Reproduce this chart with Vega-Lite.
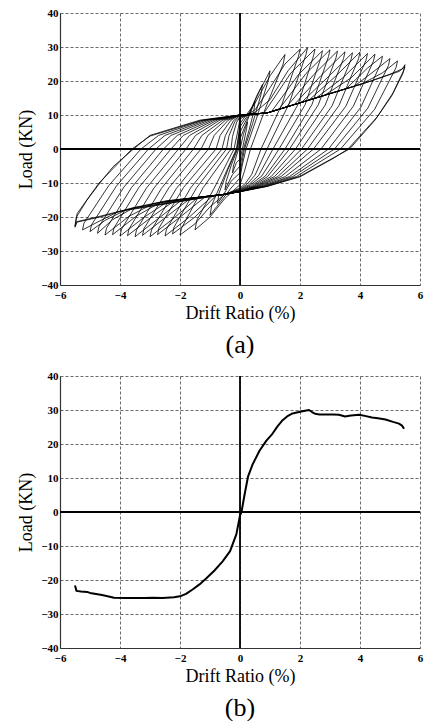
{
  "$schema": "https://vega.github.io/schema/vega-lite/v6.json",
  "padding": {"left": 17, "top": 7, "right": 2, "bottom": 0},
  "background": "white",
  "config": {
    "view": {"stroke": null},
    "font": "Liberation Serif, Times New Roman, Times, serif",
    "axis": {
      "labelFont": "Liberation Serif, Times New Roman, Times, serif", "labelFontWeight": "bold", "labelFontSize": 11, "labelColor": "#000",
      "titleFont": "Liberation Serif, Times New Roman, Times, serif", "titleFontSize": 18, "titleFontWeight": "normal", "titleColor": "#000",
      "domainColor": "#333", "domainWidth": 1.2, "ticks": false, "tickSize": 0,
      "gridColor": "#222", "gridDash": [3, 2], "gridWidth": 0.8, "gridOpacity": 0.85,
      "labelPadding": 3, "labelFlush": false, "labelOverlap": false
    },
    "axisX": {"labelPadding": 4, "titlePadding": 4},
    "axisY": {"labelPadding": 2, "titlePadding": 5},
    "title": {"font": "Liberation Serif, Times New Roman, Times, serif", "fontSize": 26, "fontWeight": "normal", "color": "#000", "orient": "bottom", "anchor": "middle", "offset": 10}
  },
  "datasets": {
    "z": [{"v": 0}],
    "b": [
      {"x":-5.5,"y":-21.6},{"x":-5.45,"y":-23.2},{"x":-5.3,"y":-23.4},{"x":-5.1,"y":-23.5},{"x":-5.0,"y":-23.8},{"x":-4.6,"y":-24.4},{"x":-4.34,"y":-24.9},{"x":-4.2,"y":-25.2},{"x":-3.8,"y":-25.3},{"x":-3.57,"y":-25.3},{"x":-3.2,"y":-25.3},{"x":-2.9,"y":-25.2},{"x":-2.6,"y":-25.3},{"x":-2.45,"y":-25.2},{"x":-2.2,"y":-25.1},{"x":-2.0,"y":-24.8},{"x":-1.8,"y":-24.1},{"x":-1.58,"y":-22.8},{"x":-1.35,"y":-21.3},{"x":-1.12,"y":-19.5},{"x":-0.85,"y":-17.2},{"x":-0.58,"y":-14.5},{"x":-0.33,"y":-11.5},{"x":-0.12,"y":-6.5},{"x":0,"y":-1},{"x":0.05,"y":0},{"x":0.15,"y":5},{"x":0.27,"y":10.5},{"x":0.42,"y":14},{"x":0.65,"y":18},{"x":0.88,"y":21},{"x":1.08,"y":23},{"x":1.25,"y":25.2},{"x":1.42,"y":27},{"x":1.6,"y":28.3},{"x":1.75,"y":29},{"x":2.0,"y":29.5},{"x":2.3,"y":30},{"x":2.4,"y":29.4},{"x":2.5,"y":28.9},{"x":2.65,"y":28.7},{"x":3.1,"y":28.7},{"x":3.3,"y":28.6},{"x":3.5,"y":28.1},{"x":3.7,"y":28.4},{"x":3.98,"y":28.6},{"x":4.2,"y":28.2},{"x":4.4,"y":27.8},{"x":4.6,"y":27.6},{"x":4.85,"y":27.2},{"x":5.1,"y":26.5},{"x":5.3,"y":26},{"x":5.4,"y":25.4},{"x":5.47,"y":24.5}
    ],
    "a": [
      {"x":0,"y":0},
      {"x":0.12,"y":4.5},{"x":0.25,"y":8},{"x":0.22,"y":6},{"x":0.08,"y":0},{"x":0,"y":-3},{"x":-0.12,"y":-4},{"x":-0.25,"y":-7},{"x":-0.22,"y":-5},{"x":-0.05,"y":0},{"x":0,"y":3},
      {"x":0.25,"y":8.5},{"x":0.5,"y":14},{"x":0.46,"y":11},{"x":0.3,"y":5.5},{"x":0.12,"y":0},{"x":0,"y":-5},{"x":-0.25,"y":-7.5},{"x":-0.5,"y":-12},{"x":-0.46,"y":-9.5},{"x":-0.28,"y":-4.5},{"x":-0.08,"y":0},{"x":0,"y":5},
      {"x":0.3,"y":10},{"x":0.55,"y":15.5},{"x":0.75,"y":19},{"x":0.7,"y":16},{"x":0.42,"y":7.5},{"x":0.15,"y":0},{"x":0,"y":-7},{"x":-0.3,"y":-9.5},{"x":-0.55,"y":-13.5},{"x":-0.75,"y":-16},{"x":-0.7,"y":-13},{"x":-0.4,"y":-6},{"x":-0.1,"y":0},{"x":0,"y":6.5},
      {"x":0.3,"y":10.5},{"x":0.65,"y":17},{"x":1.0,"y":23},{"x":0.94,"y":20},{"x":0.55,"y":9},{"x":0.2,"y":0},{"x":0.07,"y":-5},{"x":0,"y":-8.5},{"x":-0.3,"y":-11.5},{"x":-0.65,"y":-15.5},{"x":-1.0,"y":-19.5},{"x":-0.94,"y":-16.5},{"x":-0.5,"y":-7.5},{"x":-0.12,"y":0},{"x":-0.04,"y":4.5},{"x":0,"y":7.5},
      {"x":0.5,"y":13.5},{"x":1.0,"y":21.5},{"x":1.5,"y":27.8},{"x":1.44,"y":25},{"x":0.85,"y":12},{"x":0.35,"y":0},{"x":0.15,"y":-6.5},{"x":0,"y":-10.5},{"x":-0.5,"y":-14.5},{"x":-1.0,"y":-20},{"x":-1.5,"y":-23.8},{"x":-1.44,"y":-21},{"x":-0.8,"y":-10.5},{"x":-0.2,"y":0},{"x":-0.08,"y":5},{"x":0,"y":8.8},
      {"x":0.5,"y":11.5},{"x":1.0,"y":18},{"x":1.5,"y":25},{"x":2.0,"y":29.3},{"x":1.95,"y":27.3},{"x":1.4,"y":13.2},{"x":0.7,"y":0},{"x":0.39,"y":-7.5},{"x":0.18,"y":-10.1},{"x":0,"y":-11.5},{"x":-0.5,"y":-13.3},{"x":-1.0,"y":-17},{"x":-1.5,"y":-22},{"x":-2.0,"y":-25.3},{"x":-1.95,"y":-23.3},{"x":-1.23,"y":-11.4},{"x":-0.3,"y":0},{"x":-0.25,"y":3.7},{"x":-0.11,"y":7.9},{"x":0,"y":9.3},
      {"x":0.5,"y":10.8},{"x":1.0,"y":14.5},{"x":1.6,"y":23},{"x":2.25,"y":29.8},{"x":2.2,"y":27.8},{"x":1.64,"y":13.4},{"x":0.9,"y":0},{"x":0.5,"y":-7.7},{"x":0.23,"y":-10.4},{"x":0,"y":-11.8},{"x":-0.5,"y":-13.3},{"x":-0.8,"y":-13.7},{"x":-1.5,"y":-20},{"x":-2.25,"y":-25.0},{"x":-2.2,"y":-23},{"x":-1.44,"y":-11.3},{"x":-0.45,"y":0},{"x":-0.37,"y":3.8},{"x":-0.17,"y":8.1},{"x":0,"y":9.5},
      {"x":0.8,"y":10.6},{"x":1.7,"y":22.4},{"x":2.5,"y":29.4},{"x":2.45,"y":27.4},{"x":1.94,"y":13.2},{"x":1.1,"y":0},{"x":0.62,"y":-7.8},{"x":0.28,"y":-10.6},{"x":0,"y":-12},{"x":-0.5,"y":-13.3},{"x":-0.9,"y":-13.7},{"x":-1.7,"y":-20.1},{"x":-2.5,"y":-25.6},{"x":-2.45,"y":-23.6},{"x":-1.65,"y":-11.5},{"x":-0.6,"y":0},{"x":-0.49,"y":3.9},{"x":-0.22,"y":8.3},{"x":0,"y":9.8},
      {"x":0.9,"y":10.6},{"x":1.05,"y":11.0},{"x":1.95,"y":21.9},{"x":2.75,"y":28.9},{"x":2.7,"y":26.9},{"x":2.17,"y":13},{"x":1.3,"y":0},{"x":0.73,"y":-7.9},{"x":0.33,"y":-10.7},{"x":0,"y":-12.2},{"x":-0.5,"y":-13.3},{"x":-1.15,"y":-14.0},{"x":-1.95,"y":-19.7},{"x":-2.75,"y":-25.2},{"x":-2.7,"y":-23.2},{"x":-1.88,"y":-11.3},{"x":-0.8,"y":0},{"x":-0.66,"y":4},{"x":-0.3,"y":8.5},{"x":0,"y":10},
      {"x":0.9,"y":10.6},{"x":1.3,"y":11.7},{"x":2.2,"y":22.2},{"x":3.0,"y":29.2},{"x":2.95,"y":27.2},{"x":2.4,"y":13.1},{"x":1.5,"y":0},{"x":0.84,"y":-8},{"x":0.38,"y":-10.8},{"x":0,"y":-12.3},{"x":-0.5,"y":-13.3},{"x":-1.4,"y":-14.2},{"x":-2.2,"y":-20.3},{"x":-3.0,"y":-25.8},{"x":-2.95,"y":-23.8},{"x":-2.12,"y":-11.6},{"x":-1.05,"y":0},{"x":-0.86,"y":4},{"x":-0.39,"y":8.5},{"x":0,"y":10},
      {"x":0.9,"y":10.6},{"x":1.55,"y":12.4},{"x":2.45,"y":21.8},{"x":3.25,"y":28.8},{"x":3.2,"y":26.8},{"x":2.61,"y":13},{"x":1.65,"y":0},{"x":0.92,"y":-8.1},{"x":0.41,"y":-11},{"x":0,"y":-12.5},{"x":-0.5,"y":-13.3},{"x":-1.65,"y":-14.5},{"x":-2.45,"y":-19.9},{"x":-3.25,"y":-25.4},{"x":-3.2,"y":-23.4},{"x":-2.37,"y":-11.4},{"x":-1.3,"y":0},{"x":-1.07,"y":4},{"x":-0.48,"y":8.5},{"x":0,"y":10},
      {"x":0.9,"y":10.6},{"x":1.8,"y":13.0},{"x":2.7,"y":21.6},{"x":3.5,"y":28.6},{"x":3.45,"y":26.6},{"x":2.84,"y":12.9},{"x":1.85,"y":0},{"x":1.04,"y":-8.1},{"x":0.46,"y":-11},{"x":0,"y":-12.5},{"x":-0.5,"y":-13.3},{"x":-1.9,"y":-14.7},{"x":-2.7,"y":-20.3},{"x":-3.5,"y":-25.8},{"x":-3.45,"y":-23.8},{"x":-2.62,"y":-11.6},{"x":-1.55,"y":0},{"x":-1.27,"y":4},{"x":-0.57,"y":8.5},{"x":0,"y":10},
      {"x":0.9,"y":10.6},{"x":2.05,"y":13.7},{"x":2.95,"y":21.3},{"x":3.75,"y":28.3},{"x":3.7,"y":26.3},{"x":3.07,"y":12.7},{"x":2.05,"y":0},{"x":1.15,"y":-8.1},{"x":0.51,"y":-11},{"x":0,"y":-12.5},{"x":-0.5,"y":-13.3},{"x":-2.15,"y":-15.0},{"x":-2.95,"y":-20.0},{"x":-3.75,"y":-25.5},{"x":-3.7,"y":-23.5},{"x":-2.87,"y":-11.5},{"x":-1.8,"y":0},{"x":-1.48,"y":4},{"x":-0.67,"y":8.5},{"x":0,"y":10},
      {"x":0.9,"y":10.6},{"x":2.3,"y":14.4},{"x":3.2,"y":21.5},{"x":4.0,"y":28.5},{"x":3.95,"y":26.5},{"x":3.3,"y":12.8},{"x":2.25,"y":0},{"x":1.26,"y":-8.1},{"x":0.56,"y":-11},{"x":0,"y":-12.5},{"x":-0.5,"y":-13.3},{"x":-2.4,"y":-15.4},{"x":-3.2,"y":-20.1},{"x":-4.0,"y":-25.6},{"x":-3.95,"y":-23.6},{"x":-3.12,"y":-11.5},{"x":-2.05,"y":0},{"x":-1.68,"y":4},{"x":-0.76,"y":8.5},{"x":0,"y":10},
      {"x":0.9,"y":10.6},{"x":2.55,"y":15.1},{"x":3.45,"y":21.1},{"x":4.25,"y":28.1},{"x":4.2,"y":26.1},{"x":3.53,"y":12.6},{"x":2.45,"y":0},{"x":1.37,"y":-8.1},{"x":0.61,"y":-11},{"x":0,"y":-12.5},{"x":-0.5,"y":-13.3},{"x":-2.65,"y":-15.7},{"x":-3.45,"y":-19.7},{"x":-4.25,"y":-25.2},{"x":-4.2,"y":-23.2},{"x":-3.37,"y":-11.3},{"x":-2.3,"y":0},{"x":-1.89,"y":4},{"x":-0.85,"y":8.5},{"x":0,"y":10},
      {"x":0.9,"y":10.6},{"x":2.8,"y":15.7},{"x":3.7,"y":20.9},{"x":4.5,"y":27.9},{"x":4.45,"y":25.9},{"x":3.78,"y":12.6},{"x":2.7,"y":0},{"x":1.51,"y":-8.1},{"x":0.68,"y":-11},{"x":0,"y":-12.5},{"x":-0.5,"y":-13.3},{"x":-2.9,"y":-16.1},{"x":-3.7,"y":-19.8},{"x":-4.5,"y":-25.3},{"x":-4.45,"y":-23.3},{"x":-3.62,"y":-11.4},{"x":-2.55,"y":0},{"x":-2.09,"y":4},{"x":-0.94,"y":8.5},{"x":0,"y":10},
      {"x":0.9,"y":10.6},{"x":3.55,"y":17.8},{"x":4.25,"y":23.8},{"x":4.75,"y":27.3},{"x":4.7,"y":25.3},{"x":4.03,"y":12.3},{"x":2.95,"y":0},{"x":1.65,"y":-8.1},{"x":0.74,"y":-11},{"x":0,"y":-12.5},{"x":-0.5,"y":-13.3},{"x":-3.55,"y":-17.3},{"x":-4.25,"y":-20.8},{"x":-4.75,"y":-24.8},{"x":-4.7,"y":-22.8},{"x":-3.87,"y":-11.2},{"x":-2.8,"y":0},{"x":-2.3,"y":4},{"x":-1.04,"y":8.5},{"x":0,"y":10},
      {"x":0.9,"y":10.6},{"x":3.8,"y":18.4},{"x":4.5,"y":23.1},{"x":5.0,"y":26.6},{"x":4.95,"y":24.6},{"x":4.26,"y":12},{"x":3.15,"y":0},{"x":1.76,"y":-8.1},{"x":0.79,"y":-11},{"x":0,"y":-12.5},{"x":-0.5,"y":-13.3},{"x":-3.8,"y":-17.9},{"x":-4.5,"y":-21.0},{"x":-5.0,"y":-24.3},{"x":-4.95,"y":-22.3},{"x":-4.12,"y":-10.9},{"x":-3.05,"y":0},{"x":-2.5,"y":4},{"x":-1.13,"y":8.5},{"x":0,"y":10},
      {"x":0.9,"y":10.6},{"x":4.05,"y":19.1},{"x":4.75,"y":22.4},{"x":5.25,"y":25.9},{"x":5.2,"y":23.9},{"x":4.49,"y":11.7},{"x":3.35,"y":0},{"x":1.88,"y":-8.1},{"x":0.84,"y":-11},{"x":0,"y":-12.5},{"x":-0.5,"y":-13.3},{"x":-4.05,"y":-18.4},{"x":-4.75,"y":-21.5},{"x":-5.25,"y":-23.8},{"x":-5.2,"y":-21.8},{"x":-4.37,"y":-10.7},{"x":-3.3,"y":0},{"x":-2.71,"y":4},{"x":-1.22,"y":8.5},{"x":0,"y":10},
      {"x":0.9,"y":10.6},{"x":4.3,"y":19.8},{"x":5.0,"y":22.0},{"x":5.4,"y":23.5},{"x":5.5,"y":24.8},{"x":5.45,"y":23},{"x":5.1,"y":16.5},{"x":4.57,"y":9.4},{"x":3.6,"y":0},{"x":3.1,"y":-2.8},{"x":2.0,"y":-8.2},{"x":0.9,"y":-11},{"x":0,"y":-12.6},{"x":-0.5,"y":-13.3},{"x":-2.43,"y":-15.3},{"x":-3.57,"y":-17.4},{"x":-4.67,"y":-20},{"x":-5.43,"y":-21.5},{"x":-5.5,"y":-23},{"x":-5.45,"y":-20},{"x":-5.1,"y":-15},{"x":-4.67,"y":-10},{"x":-4.23,"y":-5.2},{"x":-3.55,"y":0},{"x":-3,"y":4},{"x":-1.33,"y":8.5},{"x":0,"y":10},
      {"x":0.9,"y":10.6},{"x":2.0,"y":13.6},{"x":3.1,"y":16.6},{"x":4.2,"y":19.5},{"x":5.3,"y":22.8},{"x":5.5,"y":24.2},{"x":5.42,"y":22},{"x":5.05,"y":15.5},{"x":4.5,"y":8.5},{"x":3.65,"y":0},{"x":2.0,"y":-8.0},{"x":0.9,"y":-11},{"x":0,"y":-12.5},{"x":-0.5,"y":-13.4},{"x":-2.43,"y":-15.2},{"x":-3.57,"y":-17.3},{"x":-4.67,"y":-19.8},{"x":-5.45,"y":-21.4},{"x":-5.5,"y":-22.6},{"x":-5.43,"y":-19},{"x":-4.7,"y":-10},{"x":-3.6,"y":0},{"x":-3,"y":3.8},{"x":-1.33,"y":8.3},{"x":0,"y":9.8}
    ]
  },
  "spacing": 12,
  "vconcat": [
    {
      "width": 360, "height": 272,
      "title": {"text": "(a)"},
      "layer": [
        {
          "data": {"name": "a"},
          "mark": {"type": "line", "color": "#000", "strokeWidth": 0.8, "strokeJoin": "round"},
          "encoding": {
            "x": {"field": "x", "type": "quantitative", "scale": {"domain": [-6, 6], "nice": false, "zero": false},
                  "axis": {"title": "Drift Ratio (%)", "values": [-6, -4, -2, 0, 2, 4, 6], "grid": true}},
            "y": {"field": "y", "type": "quantitative", "scale": {"domain": [-40, 40], "nice": false, "zero": false},
                  "axis": {"title": "Load (KN)", "values": [-40, -30, -20, -10, 0, 10, 20, 30, 40], "grid": true}},
            "order": {"value": null}
          }
        },
        {
          "data": {"name": "z"},
          "mark": {"type": "rule", "color": "#000", "strokeWidth": 1.8},
          "encoding": {"x": {"field": "v", "type": "quantitative",
                  "axis": {"title": "Drift Ratio (%)", "values": [-6, -4, -2, 0, 2, 4, 6], "grid": true}}}
        },
        {
          "data": {"name": "z"},
          "mark": {"type": "rule", "color": "#000", "strokeWidth": 1.8},
          "encoding": {"y": {"field": "v", "type": "quantitative",
                  "axis": {"title": "Load (KN)", "values": [-40, -30, -20, -10, 0, 10, 20, 30, 40], "grid": true}}}
        }
      ]
    },
    {
      "width": 360, "height": 272,
      "title": {"text": "(b)"},
      "layer": [
        {
          "data": {"name": "b"},
          "mark": {"type": "line", "color": "#000", "strokeWidth": 2, "strokeJoin": "round"},
          "encoding": {
            "x": {"field": "x", "type": "quantitative", "scale": {"domain": [-6, 6], "nice": false, "zero": false},
                  "axis": {"title": "Drift Ratio (%)", "values": [-6, -4, -2, 0, 2, 4, 6], "grid": true}},
            "y": {"field": "y", "type": "quantitative", "scale": {"domain": [-40, 40], "nice": false, "zero": false},
                  "axis": {"title": "Load (KN)", "values": [-40, -30, -20, -10, 0, 10, 20, 30, 40], "grid": true}},
            "order": {"value": null}
          }
        },
        {
          "data": {"name": "z"},
          "mark": {"type": "rule", "color": "#000", "strokeWidth": 1.8},
          "encoding": {"x": {"field": "v", "type": "quantitative",
                  "axis": {"title": "Drift Ratio (%)", "values": [-6, -4, -2, 0, 2, 4, 6], "grid": true}}}
        },
        {
          "data": {"name": "z"},
          "mark": {"type": "rule", "color": "#000", "strokeWidth": 1.8},
          "encoding": {"y": {"field": "v", "type": "quantitative",
                  "axis": {"title": "Load (KN)", "values": [-40, -30, -20, -10, 0, 10, 20, 30, 40], "grid": true}}}
        }
      ]
    }
  ]
}
